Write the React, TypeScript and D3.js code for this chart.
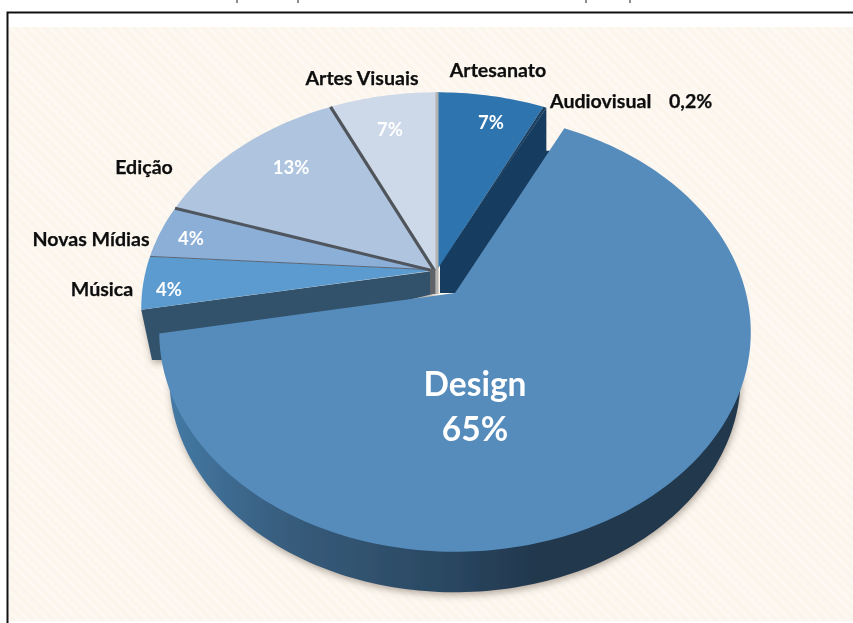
import React from "react";
import * as d3 from "d3";

const categories = ["Artesanato", "Audiovisual", "Design", "Música", "Novas Mídias", "Edição", "Artes Visuais"];
const values = [7, 0.2, 65, 4, 4, 13, 7];
const percentLabels = ["7%", "0,2%", "65%", "4%", "4%", "13%", "7%"];
const sliceColors = ["#2e75b0", "#1a3f62", "#568cbc", "#5b9bd0", "#8cafd8", "#afc5df", "#cdd9e8"];

const W = 853, H = 623;
const bend = 0.179, spread = 291;
const font = "Lato, Carlito, 'Open Sans', sans-serif";

type Disc = { x: number; y: number; k: number; a: number };
const backDisc: Disc = { x: 437, y: 270, k: 0.72, a: spread };
const designDisc: Disc = { x: 455, y: 293, k: 0.73, a: spread };
const lowerDisc: Disc = { x: 455, y: 339, k: 0.74, a: 281 };

const project = (d: Disc, t: number, r = 1): [number, number] => {
  const X = r * Math.sin(t), Y = -r * Math.cos(t);
  const s = d.a / (1 - bend * Y);
  return [d.x + X * s, d.y + Y * s * d.k];
};

const arcs = d3.pie<number>().sort(null).startAngle(0).endAngle(2 * Math.PI)(values);
const line = d3.line();
const wedge = (d: Disc, a0: number, a1: number) => {
  const n = Math.max(2, Math.ceil((a1 - a0) / 0.02));
  const rim = d3.range(n + 1).map((i) => project(d, a0 + ((a1 - a0) * i) / n));
  return line([[d.x, d.y], ...rim]) + "Z";
};

const [, audiovisual, design, musica, novas, edicao] = arcs;
const apex: [number, number] = [backDisc.x, backDisc.y];
const artesanatoEnd = project(backDisc, audiovisual.endAngle);
const musicaOuter = project(backDisc, musica.startAngle);
const novasStart = project(backDisc, novas.startAngle);
const edicaoStart = project(backDisc, edicao.startAngle);
const artesStart = project(backDisc, edicao.endAngle);

const outsideLabels: { i: number; x: number; y: number }[] = [
  { i: 0, x: 498, y: 77 },
  { i: 6, x: 362, y: 85 },
  { i: 5, x: 144, y: 174 },
  { i: 4, x: 91, y: 246 },
  { i: 3, x: 102, y: 296 },
];
const insideLabels: { i: number; x: number; y: number }[] = [
  { i: 0, x: 491, y: 129 },
  { i: 6, x: 390, y: 136 },
  { i: 5, x: 291, y: 174 },
  { i: 4, x: 191, y: 245 },
  { i: 3, x: 169, y: 296 },
];
const clippedTitleMarks = [237, 298, 586, 630];

export default function App() {
  const order = [3, 4, 5, 6, 0];
  const labelSize = 19.6;
  return (
    <svg width={W} height={H} viewBox={`0 0 ${W} ${H}`} style={{ position: "absolute", left: 0, top: 0, background: "#fff" }}>
      <defs>
        <pattern id="hatch" width="7" height="7" patternUnits="userSpaceOnUse" patternTransform="rotate(45)">
          <rect width="7" height="7" fill="#fdf8f2" />
          <rect width="7" height="3.5" fill="#fbf5ec" />
        </pattern>
        <linearGradient id="rimFill" gradientUnits="userSpaceOnUse" x1="170" x2="760" y1="0" y2="0">
          <stop offset="0" stopColor="#4479a4" />
          <stop offset="0.2" stopColor="#375c7c" />
          <stop offset="0.45" stopColor="#2b4963" />
          <stop offset="0.62" stopColor="#22384e" />
          <stop offset="1" stopColor="#22384e" />
        </linearGradient>
        <filter id="softShadow" x="-10%" y="-10%" width="120%" height="120%">
          <feDropShadow dx="1" dy="3" stdDeviation="3.5" floodColor="#5a4a3a" floodOpacity="0.45" />
        </filter>
        <filter id="soften" x="-5%" y="-5%" width="110%" height="110%">
          <feGaussianBlur stdDeviation="0.4" />
        </filter>
      </defs>

      {clippedTitleMarks.map((x) => (
        <path key={x} d={`M${x},0V3`} stroke="#444" strokeWidth={1.2} fill="none" />
      ))}

      <rect x={9} y={27} width={W - 9} height={H - 29} fill="url(#hatch)" />
      <path d={`M7.5,${H}V12.5H${W}`} fill="none" stroke="#111" strokeWidth={2} />

      <g filter="url(#soften)">
        {/* Música cut face */}
        <path
          d={line([musicaOuter, [apex[0] - 4, apex[1] + 1], [apex[0] - 4, apex[1] + 24], [164, 360], [152, 360]])! + "Z"}
          fill="#33516b"
          filter="url(#softShadow)"
        />
        {/* Artesanato cut face */}
        <path
          d={line([artesanatoEnd, [apex[0] + 3, apex[1] - 6], [apex[0] + 3, apex[1] + 23], [apex[0] + 25, apex[1] + 23], [artesanatoEnd[0] + 6, artesanatoEnd[1] + 43], [artesanatoEnd[0], artesanatoEnd[1] + 43]])! + "Z"}
          fill="#183d60"
        />
        {order.map((i) => (
          <path key={i} d={wedge(backDisc, arcs[i].startAngle, arcs[i].endAngle)} fill={sliceColors[i]} />
        ))}
        <path d={wedge(backDisc, audiovisual.startAngle, audiovisual.endAngle)} fill={sliceColors[1]} />

        {/* thin walls between the rear slices */}
        <path d={line([novasStart, apex])!} stroke="#5b6675" strokeWidth={1} fill="none" />
        <path d={line([edicaoStart, [apex[0] - 3, apex[1] + 1]])!} stroke="#50565e" strokeWidth={3} fill="none" />
        <path d={line([artesStart, [apex[0] - 3, apex[1]]])!} stroke="#50545a" strokeWidth={3.2} fill="none" />
        <path d={`M${apex[0]},${project(backDisc, 0)[1]}V${apex[1] + 24}`} stroke="#b4b4b2" strokeWidth={3} fill="none" />
        <rect x={apex[0] - 7} y={apex[1] - 1} width={5.5} height={25} fill="#5f6368" />

        {/* Design */}
        <path d={wedge(lowerDisc, design.startAngle, design.endAngle)} fill="url(#rimFill)" filter="url(#softShadow)" />
        <path d={wedge(designDisc, design.startAngle, design.endAngle)} fill={sliceColors[2]} />

        <g fontFamily={font} fontWeight={700} fontSize={labelSize} fill="#0d0d0d" stroke="#0d0d0d" strokeWidth={0.25}>
          {outsideLabels.map(({ i, x, y }) => (
            <text key={i} x={x} y={y} textAnchor="middle">{categories[i]}</text>
          ))}
          <text x={550} y={108}>{categories[1]}</text>
          <text x={669} y={108}>{percentLabels[1]}</text>
        </g>
        <g fontFamily={font} fontWeight={700} fontSize={18.5} fill="#fff">
          {insideLabels.map(({ i, x, y }, n) => (
            <text key={n} x={x} y={y} textAnchor="middle">{percentLabels[i]}</text>
          ))}
        </g>
        <g fontFamily={font} fontWeight={700} fontSize={33.5} fill="#fff">
          <text x={475} y={396} textAnchor="middle">{categories[2]}</text>
          <text x={475} y={441} textAnchor="middle">{percentLabels[2]}</text>
        </g>
      </g>
    </svg>
  );
}
